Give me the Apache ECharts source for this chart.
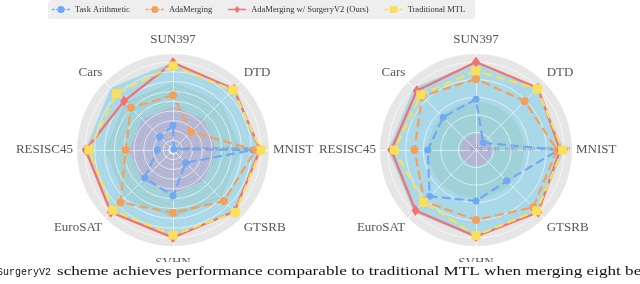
<!DOCTYPE html>
<html><head><meta charset="utf-8">
<script src="https://cdn.jsdelivr.net/npm/echarts@6/dist/echarts.min.js"></script>
<style>html,body{margin:0;padding:0;background:#fff}#c{width:640px;height:284px}</style>
</head><body><div id="c"></div>
<script>
// indicator order (counter-clockwise from top)
const tasks = ['SUN397','Cars','RESISC45','EuroSAT','SVHN','GTSRB','MNIST','DTD'];
const seriesNames = ['Task Arithmetic','AdaMerging','AdaMerging w/ SurgeryV2 (Ours)','Traditional MTL'];

// left chart values
const leftTaskArithmetic = [0.676,0.645,0.630,0.753,0.785,0.642,0.959,0.556];
const leftAdaMerging     = [0.830,0.856,0.792,0.929,0.871,0.918,0.973,0.681];
const leftSurgeryV2      = [0.997,0.904,0.997,1.000,0.998,0.995,0.995,0.990];
const leftMTL            = [0.980,0.959,0.980,0.986,0.986,1.000,1.000,0.984];
// right chart values
const rightTaskArithmetic = [0.894,0.882,0.887,0.936,0.895,0.874,0.985,0.779];
const rightAdaMerging     = [0.952,0.966,0.925,0.957,0.949,0.980,0.980,0.946];
const rightSurgeryV2      = [1.000,0.988,0.991,0.993,0.996,1.000,0.989,0.999];
const rightMTL            = [0.975,0.972,0.982,0.960,0.993,0.994,0.996,0.996];

// radial axes
const leftMin = 0.55, leftMax = 1.00, leftSplit = 9;
const rightMin = 0.75, rightMax = 1.00, rightSplit = 5;
const leftTickLabels = ['0.60','0.65','0.70','0.75','0.80','0.85','0.90','0.95','1.00'];
const rightTickLabels = ['0.75','0.80','0.85','0.90','0.95','1.00'];

const captionMono = 'SurgeryV2';
const caption = 'scheme achieves performance comparable to traditional MTL when merging eight benchmarks';

const colors = ['#6fa8f5','#f5a05a','#f57070','#fadf5a'];
const lineTypes = ['dashed','dashed','solid','dashed'];
const symbols = ['circle','circle','diamond','rect'];
const symbolSizes = [7,8,[8,11],9];

const SERIF = 'Liberation Serif';
const GRAY = '#e6e6e6', BLUE = '#a9d8e8', TEAL = '#9fd2d8', PURPLE = '#b2b5d3';
const R_BG = 96, R_GRID = 88;
const CL = [173,150], CR = [476,150];

// name placement style per direction
const nameKey = { SUN397: 't', SVHN: 'b', DTD: 'dt', Cars: 'dt', EuroSAT: 'db', GTSRB: 'db', MNIST: 'h', RESISC45: 'h' };
const nameBase = { color: '#555', fontFamily: SERIF, fontSize: 13 };
const nameRich = {
  t:  Object.assign({ padding: [0, 0, 4, 0] }, nameBase),
  b:  Object.assign({ padding: [6, 0, 0, 0] }, nameBase),
  dt: Object.assign({ padding: [0, 0, 13, 0] }, nameBase),
  db: Object.assign({ padding: [13, 0, 0, 0] }, nameBase),
  h:  Object.assign({}, nameBase)
};

function bgRadar(center) {
  return {
    center, radius: R_BG, shape: 'circle', startAngle: 90, splitNumber: 1, z: 0,
    indicator: tasks.map(t => ({ name: t, min: 0, max: 1 })),
    axisName: Object.assign({ formatter: n => '{' + nameKey[n] + '|' + n + '}', rich: nameRich }, nameBase),
    nameGap: 4,
    axisLine: { show: true, lineStyle: { color: '#ffffff', width: 1 } },
    splitLine: { show: false },
    splitArea: { show: true, areaStyle: { color: [GRAY, GRAY] } },
    axisLabel: { show: false }
  };
}
function bandRadar(center, radius, shape, n, cols, z) {
  return {
    center, radius, shape, startAngle: 90, splitNumber: n, z,
    indicator: tasks.map(t => ({ name: t, min: 0, max: n })),
    axisName: { show: false },
    axisLine: { show: false }, splitLine: { show: false },
    splitArea: { show: true, areaStyle: { color: cols } },
    axisLabel: { show: false }
  };
}
function gridRadar(center, min, max, split, labels) {
  return {
    center, radius: R_GRID, shape: 'circle', startAngle: 90, splitNumber: split, z: 2,
    indicator: tasks.map(t => t === 'MNIST'
      ? { name: t, min, max, axisLabel: { show: true } }
      : { name: t, min, max }),
    axisName: { show: false },
    axisLine: { show: true, lineStyle: { color: 'rgba(255,255,255,0.55)', width: 1 } },
    splitLine: { show: true, lineStyle: { color: 'rgba(255,255,255,0.6)', width: 1 } },
    splitArea: { show: false },
    axisLabel: {
      show: false, fontSize: 7, color: '#8a93a8', fontFamily: SERIF, margin: -3,
      formatter: v => { const s = (+v).toFixed(2); return labels.indexOf(s) >= 0 ? s : ''; }
    }
  };
}

const leftBandCols = ['rgba(0,0,0,0)'];
for (let i = 1; i <= 18; i++) leftBandCols.push(i <= 8 ? PURPLE : (i <= 13 ? TEAL : BLUE));

const radars = [
  bgRadar(CL),                                                  // 0
  bandRadar(CL, R_GRID, 'polygon', 18, leftBandCols, 0.5),      // 1
  gridRadar(CL, leftMin, leftMax, leftSplit, leftTickLabels),   // 2
  bgRadar(CR),                                                  // 3
  bandRadar(CR, R_GRID, 'polygon', 1, [BLUE, BLUE], 0.5),       // 4
  bandRadar(CR, 48, 'circle', 6, [PURPLE, PURPLE, TEAL, TEAL, TEAL, TEAL], 0.6), // 5
  gridRadar(CR, rightMin, rightMax, rightSplit, rightTickLabels) // 6
];

const leftData = [leftTaskArithmetic, leftAdaMerging, leftSurgeryV2, leftMTL];
const rightData = [rightTaskArithmetic, rightAdaMerging, rightSurgeryV2, rightMTL];

function makeSeries(radarIndex, dataSet) {
  return seriesNames.map((name, k) => ({
    type: 'radar', radarIndex, z: 3 + k * 0.1, name,
    symbol: symbols[k], symbolSize: symbolSizes[k],
    lineStyle: { color: colors[k], width: 2.2, type: lineTypes[k] },
    itemStyle: { color: colors[k] },
    emphasis: { disabled: true },
    data: [{ name, value: dataSet[k] }]
  }));
}

const dashCircle = 'path://M0,3.3h3v1.4h-3z M4.5,3.3h2v1.4h-2z M6,4a4,4 0 1,0 8,0a4,4 0 1,0 -8,0z M13.5,3.3h2v1.4h-2z M17,3.3h3v1.4h-3z';
const solidDiamond = 'path://M0,3.3h20v1.4h-20z M10,0L13,4L10,8L7,4z';
const dashSquare = 'path://M0,3.3h3v1.4h-3z M4.5,3.3h2v1.4h-2z M6,0h8v8h-8z M13.5,3.3h2v1.4h-2z M17,3.3h3v1.4h-3z';
const legendIcons = [dashCircle, dashCircle, solidDiamond, dashSquare];

const chart = echarts.init(document.getElementById('c'), null, { renderer: 'canvas' });
chart.setOption({
  animation: false,
  backgroundColor: '#ffffff',
  color: colors,
  legend: {
    left: 48, top: 0, itemWidth: 18, itemHeight: 8, itemGap: 16,
    padding: [5, 10, 5, 4], backgroundColor: '#eeeeee', borderRadius: 3,
    selectedMode: false,
    textStyle: { fontFamily: SERIF, fontSize: 8.5, color: '#333' },
    data: seriesNames.map((n, k) => ({ name: n, icon: legendIcons[k], itemStyle: { color: colors[k] } }))
  },
  radar: radars,
  series: makeSeries(2, leftData).concat(makeSeries(6, rightData)),
  graphic: [
    { type: 'rect', left: 0, top: 262, shape: { width: 640, height: 22 }, style: { fill: '#ffffff' }, z: 10 },
    { type: 'text', x: -3, y: 267, z: 11,
      style: { text: captionMono, fill: '#111', fontFamily: 'Liberation Mono', fontSize: 10 } },
    { type: 'text', x: 57, y: 264, scaleX: 1.27, scaleY: 1, z: 11,
      style: { text: caption, fill: '#111', fontFamily: SERIF, fontSize: 13.5 } }
  ]
});
</script></body></html>
